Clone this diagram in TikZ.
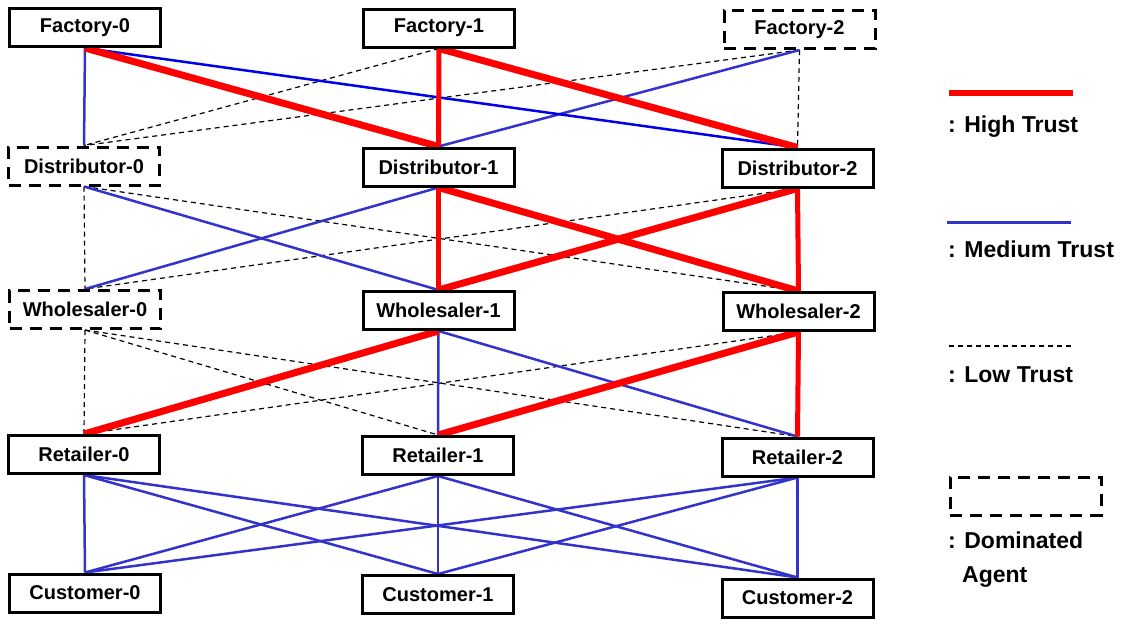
\documentclass[tikz,border=0pt]{standalone}
\usepackage{fontspec}
\setmainfont{Liberation Sans}
\usetikzlibrary{backgrounds}
\definecolor{hred}{RGB}{255,0,0}
\definecolor{mblue}{RGB}{51,51,204}
\definecolor{pblue}{RGB}{0,0,235}
\tikzset{
 agent/.style={draw, line width=3pt, fill=white, minimum width=151pt, minimum height=38pt, inner sep=0pt, font=\fontsize{20}{24}\selectfont\bfseries},
 dom/.style={agent, dash pattern=on 12pt off 8pt},
 high/.style={draw=hred, line width=7pt},
 highv/.style={draw=hred, line width=5pt},
 med/.style={draw=mblue, line width=2.5pt},
 low/.style={draw=black, line width=1.2pt, dash pattern=on 5pt off 4pt},
 lgd/.style={anchor=base west, inner sep=0pt, font=\fontsize{23}{28}\selectfont\bfseries},
}
\begin{document}
\begin{tikzpicture}[x=1pt,y=-1pt]
\useasboundingbox (0,0) rectangle (1126,625);
% agents
\node[agent] (f0) at (85,27.5) {Factory-0};
\node[agent] (f1) at (439,28) {Factory-1};
\node[dom]   (f2) at (799.5,29.5) {Factory-2};
\node[dom]   (d0) at (84,166) {Distributor-0};
\node[agent] (d1) at (438.5,167) {Distributor-1};
\node[agent] (d2) at (797.5,168) {Distributor-2};
\node[dom]   (w0) at (85,309.5) {Wholesaler-0};
\node[agent] (w1) at (438.5,310.5) {Wholesaler-1};
\node[agent] (w2) at (798.5,311.5) {Wholesaler-2};
\node[agent] (r0) at (84,454.5) {Retailer-0};
\node[agent] (r1) at (438,455.5) {Retailer-1};
\node[agent] (r2) at (797.5,457) {Retailer-2};
\node[agent] (c0) at (85,593) {Customer-0};
\node[agent] (c1) at (438,594.5) {Customer-1};
\node[agent] (c2) at (797.5,598) {Customer-2};
\begin{scope}[on background layer]
% low trust
\foreach \a/\b in {f1/d0,f2/d0,f2/d2,d0/w0,d0/w2,d2/w0,w0/r0,w0/r1,w0/r2,w2/r0}
  \draw[low] (\a.south) -- (\b.north);
% medium trust
\foreach \a/\b in {f0/d0,f2/d1,d0/w1,d1/w0,w1/r1,w1/r2,r0/c0,r0/c1,r0/c2,r1/c0,r1/c1,r1/c2,r2/c0,r2/c1,r2/c2}
  \draw[med] (\a.south) -- (\b.north);
\draw[med, draw=pblue] (f0.south) -- (d2.north);
% high trust
\foreach \a/\b in {f0/d1,f1/d2,d1/w2,d2/w1,w1/r0,w2/r1}
  \draw[high] (\a.south) -- (\b.north);
\foreach \a/\b in {f1/d1,d1/w1,d2/w2,w2/r2}
  \draw[highv] (\a.south) -- (\b.north);
\end{scope}
% legend
\coordinate (h1) at (949,93); \coordinate (h2) at (1073,93);
\draw[high, line width=6pt] (h1) -- (h2);
\node[lgd] (th) at (948,132) {: High Trust};
\coordinate (m1) at (947,222); \coordinate (m2) at (1071,222);
\draw[med, line width=3pt] (m1) -- (m2);
\node[lgd] (tm) at (948,257) {: Medium Trust};
\coordinate (l1) at (949,346); \coordinate (l2) at (1073,346);
\draw[low] (l1) -- (l2);
\node[lgd] (tl) at (948,382) {: Low Trust};
\node[dom, fill=none] (ld) at (1025.5,496) {};
\node[lgd] (td) at (948,548) {: Dominated};
\node[lgd] (ta) at (962,582) {Agent};
\end{tikzpicture}
\end{document}
